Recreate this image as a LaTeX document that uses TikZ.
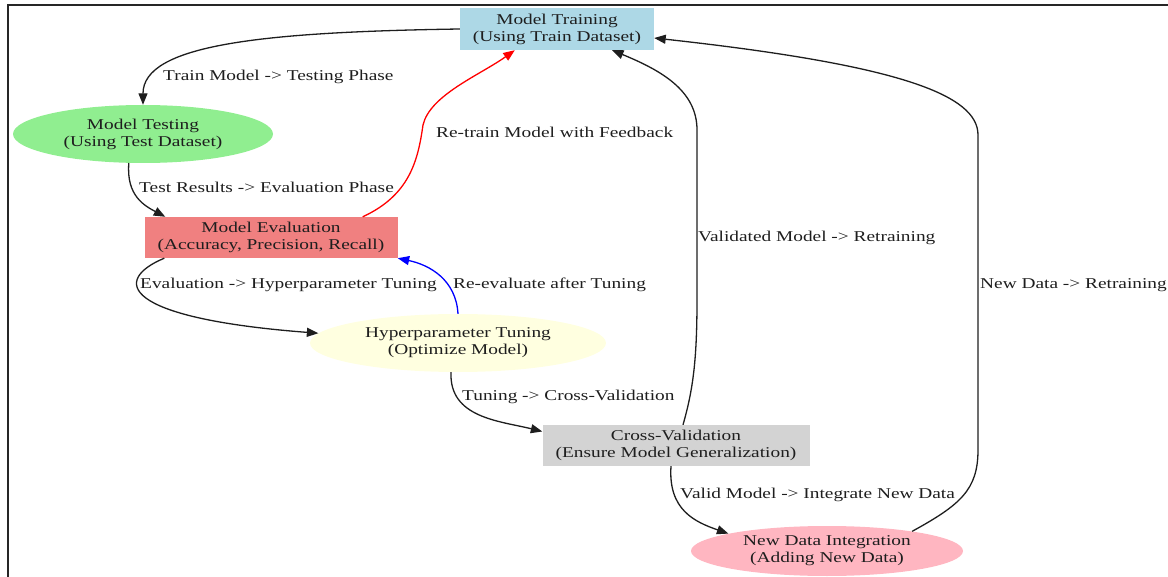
\documentclass[tikz,border=0pt]{standalone}
\usepackage{fontspec}
\setmainfont{Liberation Serif}[FakeStretch=1.29]
\usetikzlibrary{arrows.meta,shapes.geometric}
\definecolor{txt}{HTML}{1E1E1E}
\definecolor{cTrain}{HTML}{ADD8E6}
\definecolor{cTest}{HTML}{90EE90}
\definecolor{cEval}{HTML}{F08080}
\definecolor{cTune}{HTML}{FFFFE0}
\definecolor{cCross}{HTML}{D3D3D3}
\definecolor{cNew}{HTML}{FFB6C1}
\tikzset{
  every node/.style={text=txt, font=\fontsize{15}{17}\selectfont},
  boxnode/.style={rectangle, inner sep=0pt, align=center},
  ovalnode/.style={ellipse, inner sep=0pt, align=center},
  lbl/.style={anchor=base west, inner sep=0pt},
  flow/.style={line width=1.3pt, draw=txt, -{Triangle[length=11.5pt,width=9pt]}},
}
\begin{document}
\begin{tikzpicture}[x=1pt, y=-1pt]
\useasboundingbox (0,0) rectangle (1168,577);
% frame
\draw[line width=2pt, draw=black!85] (8,577) -- (8,5) -- (1168,5);

% stages
\node[boxnode, fill=cTrain, minimum width=194pt, minimum height=42pt] (train) at (557,29)
  {Model Training\\(Using Train Dataset)};
\node[ovalnode, fill=cTest, minimum width=260pt, minimum height=58pt] (test) at (143,134)
  {Model Testing\\(Using Test Dataset)};
\node[boxnode, fill=cEval, minimum width=253pt, minimum height=41pt] (eval) at (271,237.5)
  {Model Evaluation\\(Accuracy, Precision, Recall)};
\node[ovalnode, fill=cTune, minimum width=296pt, minimum height=58pt] (tune) at (458,343)
  {Hyperparameter Tuning\\(Optimize Model)};
\node[boxnode, fill=cCross, minimum width=267pt, minimum height=41pt] (cross) at (676,445.5)
  {Cross-Validation\\(Ensure Model Generalization)};
\node[ovalnode, fill=cNew, minimum width=272pt, minimum height=50pt] (new) at (827,551)
  {New Data Integration\\(Adding New Data)};

% transitions
\draw[flow] (train.west) .. controls (260,32) and (143,45) .. (test.north);
\draw[flow] (test.244) .. controls (126,196) and (145,206) .. ([xshift=21pt]eval.north west);
\draw[flow, draw=red] ([xshift=-35pt]eval.north east) .. controls (410,195) and (418,160) .. (423,125)
  .. controls (430,95) and (480,75) .. ([xshift=55pt]train.south west);
\draw[flow] ([xshift=20pt]eval.south west) .. controls (112,280) and (120,318) .. (tune.176);
\draw[flow, draw=blue] (tune.north) .. controls (456,280) and (430,265) .. (eval.south east);
\draw[flow] ([xshift=-7pt]tune.south) .. controls (449,418) and (500,421) .. ([yshift=14pt]cross.west);
\draw[flow] ([xshift=7pt]cross.north) .. controls (693,390) and (697,360) .. (697,300)
  -- (697,130) .. controls (697,90) and (660,70) .. ([xshift=55pt]train.south);
\draw[flow] ([xshift=-5pt]cross.south) .. controls (668,510) and (695,522) .. (new.170);
\draw[flow] (new.13) .. controls (960,505) and (978,490) .. (978,450)
  -- (978,135) .. controls (978,95) and (900,65) .. ([yshift=-9pt]train.east);

% transition labels
\node[lbl] (l1) at (163,81) {Train Model -> Testing Phase};
\node[lbl] (l2) at (139,193) {Test Results -> Evaluation Phase};
\node[lbl] (l3) at (436,138) {Re-train Model with Feedback};
\node[lbl] (l4) at (140,289) {Evaluation -> Hyperparameter Tuning};
\node[lbl] (l5) at (453,289) {Re-evaluate after Tuning};
\node[lbl] (l6) at (698,242) {Validated Model -> Retraining};
\node[lbl] (l7) at (980,289) {New Data -> Retraining};
\node[lbl] (l8) at (462,401) {Tuning -> Cross-Validation};
\node[lbl] (l9) at (680,498) {Valid Model -> Integrate New Data};
\end{tikzpicture}
\end{document}
